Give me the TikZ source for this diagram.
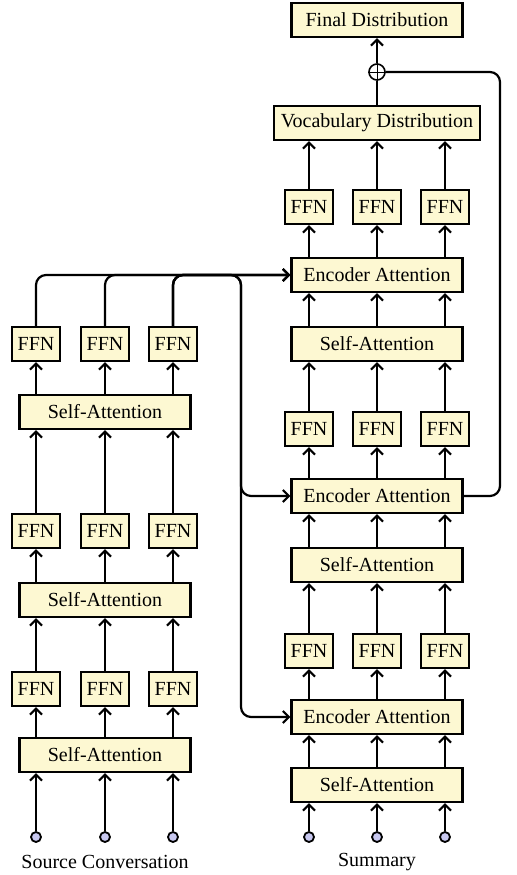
\documentclass[tikz,border=0pt]{standalone}
\usepackage{fontspec}
\setmainfont{Liberation Serif}
\usepackage{tikz}
\usetikzlibrary{calc,positioning,arrows.meta}

\definecolor{boxfill}{RGB}{253,248,210}
\definecolor{infill}{RGB}{200,200,240}

\tikzset{
  layer/.style={draw, line width=1.1pt, fill=boxfill, minimum height=17pt, inner sep=3pt},
  ffnbox/.style={layer, minimum width=24pt},
  widebox/.style={layer, minimum width=85.5pt},
  inp/.style={circle, draw, line width=0.9pt, fill=infill, inner sep=0pt, minimum size=5pt},
  flow/.style={->, line width=1.1pt},
  link/.style={line width=1.1pt, rounded corners=5pt}
}

\begin{document}
\begin{tikzpicture}[x=0.5pt, y=-0.5pt, >={Straight Barb[length=3pt,width=6pt]}]

\useasboundingbox (0,0) rectangle (517,875);

% source side
\node (lsa1) at (105,755) [widebox] {Self-Attention};
\node (lsa2) at (105,600) [widebox] {Self-Attention};
\node (lsa3) at (105,412) [widebox] {Self-Attention};

\node (lffn11) at (36,689) [ffnbox] {FFN};
\node (lffn12) at (105,689) [ffnbox] {FFN};
\node (lffn13) at (173,689) [ffnbox] {FFN};
\node (lffn21) at (36,531) [ffnbox] {FFN};
\node (lffn22) at (105,531) [ffnbox] {FFN};
\node (lffn23) at (173,531) [ffnbox] {FFN};
\node (lffn31) at (36,344) [ffnbox] {FFN};
\node (lffn32) at (105,344) [ffnbox] {FFN};
\node (lffn33) at (173,344) [ffnbox] {FFN};

\node (lin1) at (36,837) [inp] {};
\node (lin2) at (105,837) [inp] {};
\node (lin3) at (173,837) [inp] {};
\node (srclabel) at (105,862) {Source Conversation};

% summary side
\node (rsa1) at (377,785) [widebox] {Self-Attention};
\node (renc1) at (377,717) [widebox] {Encoder Attention};
\node (rsa2) at (377,565) [widebox] {Self-Attention};
\node (renc2) at (377,496) [widebox] {Encoder Attention};
\node (rsa3) at (377,344) [widebox] {Self-Attention};
\node (renc3) at (377,275) [widebox] {Encoder Attention};

\node (rffn11) at (309,651) [ffnbox] {FFN};
\node (rffn12) at (377,651) [ffnbox] {FFN};
\node (rffn13) at (445,651) [ffnbox] {FFN};
\node (rffn21) at (309,429) [ffnbox] {FFN};
\node (rffn22) at (377,429) [ffnbox] {FFN};
\node (rffn23) at (445,429) [ffnbox] {FFN};
\node (rffn31) at (309,207) [ffnbox] {FFN};
\node (rffn32) at (377,207) [ffnbox] {FFN};
\node (rffn33) at (445,207) [ffnbox] {FFN};

\node (vocab) at (377,123) [layer, inner sep=3.5pt] {Vocabulary Distribution};
\node (plus) at (377,72) [circle, draw, line width=0.8pt, fill=white, inner sep=0pt, minimum size=8pt] {};
\draw[thin] (plus.north) -- (plus.south) (plus.west) -- (plus.east);
\node (final) at (377,20) [widebox] {Final Distribution};

\node (rin1) at (309,837) [inp] {};
\node (rin2) at (377,837) [inp] {};
\node (rin3) at (445,837) [inp] {};
\node (sumlabel) at (377,862) {Summary};

% vertical flow, source side
\foreach \c in {1,2,3} {
  \draw[flow] (lin\c) -- (lin\c |- lsa1.south);
  \draw[flow] (lin\c |- lsa1.north) -- (lffn1\c);
  \draw[flow] (lffn1\c) -- (lffn1\c |- lsa2.south);
  \draw[flow] (lffn1\c |- lsa2.north) -- (lffn2\c);
  \draw[flow] (lffn2\c) -- (lffn2\c |- lsa3.south);
  \draw[flow] (lffn2\c |- lsa3.north) -- (lffn3\c);
}

% vertical flow, summary side
\foreach \c in {1,2,3} {
  \draw[flow] (rin\c) -- (rin\c |- rsa1.south);
  \draw[flow] (rin\c |- rsa1.north) -- (rin\c |- renc1.south);
  \draw[flow] (rin\c |- renc1.north) -- (rffn1\c);
  \draw[flow] (rffn1\c) -- (rffn1\c |- rsa2.south);
  \draw[flow] (rffn1\c |- rsa2.north) -- (rffn1\c |- renc2.south);
  \draw[flow] (rffn1\c |- renc2.north) -- (rffn2\c);
  \draw[flow] (rffn2\c) -- (rffn2\c |- rsa3.south);
  \draw[flow] (rffn2\c |- rsa3.north) -- (rffn2\c |- renc3.south);
  \draw[flow] (rffn2\c |- renc3.north) -- (rffn3\c);
  \draw[flow] (rffn3\c) -- (rffn3\c |- vocab.south);
}

% encoder output into the decoder
\coordinate (drop) at (241,0);
\foreach \c in {1,2,3}
  \draw[link, ->] (lffn3\c) |- (renc3.west);
\draw[link, ->] (lffn33) |- (drop |- renc3.west) -- (drop |- renc2.west) -- (renc2.west);
\draw[link, ->] (lffn33) |- (drop |- renc3.west) -- (drop |- renc1.west) -- (renc1.west);

% copy path and output
\coordinate (skip) at (500,0);
\draw[link] (renc2.east) -- (skip |- renc2.east) -- (skip |- plus) -- (plus);
\draw[line width=1.1pt] (vocab) -- (plus);
\draw[flow] (plus) -- (final);

\end{tikzpicture}
\end{document}
